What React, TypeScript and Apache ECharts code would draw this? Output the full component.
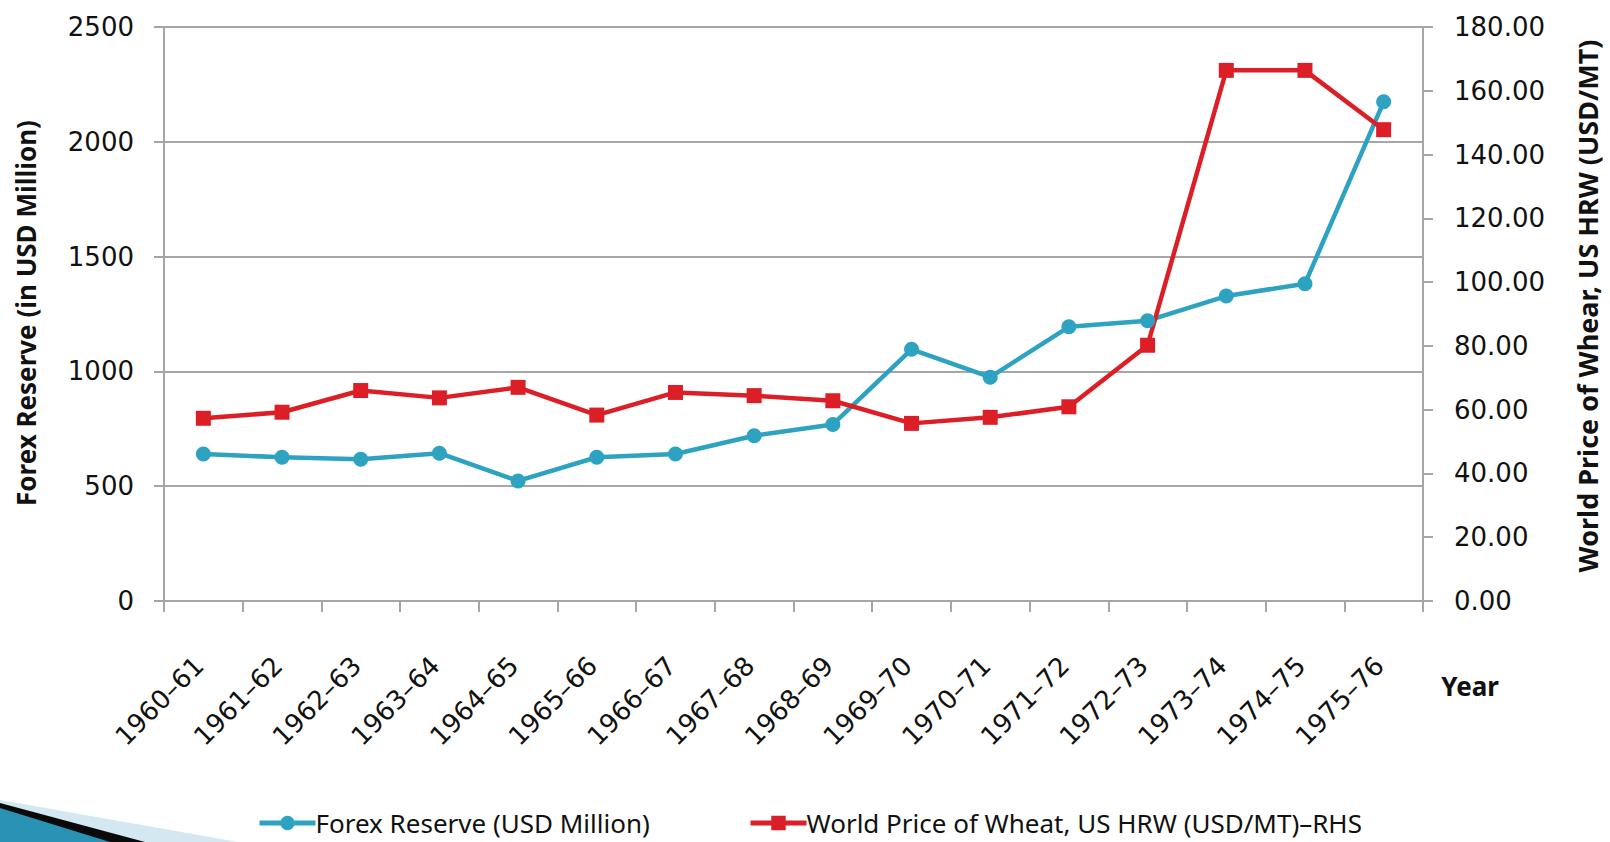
import React, { useEffect, useRef } from "react";
import * as echarts from "echarts";

const categories = [
  "1960–61", "1961–62", "1962–63", "1963–64", "1964–65", "1965–66", "1966–67", "1967–68",
  "1968–69", "1969–70", "1970–71", "1971–72", "1972–73", "1973–74", "1974–75", "1975–76",
];
const forexReserve = [640, 626, 617, 644, 523, 626, 640, 720, 769, 1096, 975, 1194, 1221, 1328, 1382, 2174];
const wheatPrice = [57.3, 59.2, 66.0, 63.7, 67.0, 58.3, 65.4, 64.4, 62.8, 55.7, 57.6, 60.9, 80.2, 166.4, 166.4, 147.8];
const leftTicks = { min: 0, max: 2500, interval: 500 };
const rightTicks = { min: 0, max: 180, interval: 20 };

const BLUE = "#2ea3c1";
const RED = "#dc1f26";
const GRID_GRAY = "#a6a6a6";

export default function App() {
  const ref = useRef<HTMLDivElement>(null);
  useEffect(() => {
    if (!ref.current) return;
    const chart = echarts.init(ref.current, null, { renderer: "svg" });
    const tickFont = { fontFamily: "DejaVu Sans", fontSize: 26, color: "#111" };
    const legendCommon = {
      top: 810,
      itemWidth: 56,
      itemHeight: 18,
      itemGap: 0,
      padding: 0,
      lineStyle: { width: 5 },
      textStyle: { fontFamily: "Noto Sans", fontSize: 26, lineHeight: 26, color: "#111", padding: [0, 0, 0, -5] },
    };
    chart.setOption({
      animation: false,
      backgroundColor: "#ffffff",
      grid: { left: 164, right: 187, top: 27, bottom: 241, containLabel: false },
      legend: [
        { ...legendCommon, data: ["Forex Reserve (USD Million)"], left: 257 },
        { ...legendCommon, data: ["World Price of Wheat, US HRW (USD/MT)–RHS"], left: 748 },
      ],
      xAxis: {
        type: "category",
        data: categories,
        boundaryGap: true,
        axisLine: { lineStyle: { color: GRID_GRAY, width: 2 } },
        axisTick: { show: true, length: 11, lineStyle: { color: GRID_GRAY, width: 2 } },
        axisLabel: { ...tickFont, fontSize: 26, rotate: 45, margin: 56, interval: 0, padding: [0, 6, 0, 0] },
      },
      yAxis: [
        {
          type: "value",
          ...leftTicks,
          position: "left",
          axisLine: { show: true, lineStyle: { color: GRID_GRAY, width: 2 } },
          axisTick: { show: true, length: 10, lineStyle: { color: GRID_GRAY, width: 2 } },
          axisLabel: { ...tickFont, margin: 30, formatter: (v: number) => String(v) },
          splitLine: { show: true, lineStyle: { color: GRID_GRAY, width: 2 } },
        },
        {
          type: "value",
          ...rightTicks,
          position: "right",
          axisLine: { show: true, lineStyle: { color: GRID_GRAY, width: 2 } },
          axisTick: { show: true, length: 10, lineStyle: { color: GRID_GRAY, width: 2 } },
          axisLabel: { ...tickFont, margin: 31, formatter: (v: number) => v.toFixed(2) },
          splitLine: { show: false },
        },
      ],
      series: [
        {
          name: "Forex Reserve (USD Million)",
          type: "line",
          yAxisIndex: 0,
          data: forexReserve,
          symbol: "circle",
          symbolSize: 15,
          itemStyle: { color: BLUE },
          lineStyle: { color: BLUE, width: 4.5 },
        },
        {
          name: "World Price of Wheat, US HRW (USD/MT)–RHS",
          type: "line",
          yAxisIndex: 1,
          data: wheatPrice,
          symbol: "rect",
          symbolSize: 15,
          itemStyle: { color: RED },
          lineStyle: { color: RED, width: 4.5 },
        },
      ],
      graphic: [
        { type: "polygon", z: 0, shape: { points: [[0, 800], [0, 842], [238, 842]] }, style: { fill: "#d3e8f0" } },
        { type: "polygon", z: 0, shape: { points: [[0, 803], [0, 842], [145, 842]] }, style: { fill: "#0a0a0a" } },
        { type: "polygon", z: 0, shape: { points: [[0, 808], [0, 842], [110, 842]] }, style: { fill: "#2a93b5" } },
        {
          type: "text",
          x: 26,
          y: 313,
          rotation: Math.PI / 2,
          style: {
            text: "Forex Reserve (in USD Million)",
            fontFamily: "Noto Sans",
            fontWeight: "bold",
            fontSize: 26,
            fill: "#111",
            align: "center",
            verticalAlign: "middle",
          },
        },
        {
          type: "text",
          x: 1587,
          y: 306,
          rotation: Math.PI / 2,
          style: {
            text: "World Price of Whear, US HRW (USD/MT)",
            fontFamily: "Noto Sans",
            fontWeight: "bold",
            fontSize: 27,
            fill: "#111",
            align: "center",
            verticalAlign: "middle",
          },
        },
        {
          type: "text",
          x: 1470,
          y: 686,
          style: {
            text: "Year",
            fontFamily: "Noto Sans",
            fontWeight: "bold",
            fontSize: 26,
            fill: "#111",
            align: "center",
            verticalAlign: "middle",
          },
        },
      ],
    });
    return () => chart.dispose();
  }, []);
  return <div ref={ref} style={{ position: "absolute", left: 0, top: 0, width: 1610, height: 842 }} />;
}
